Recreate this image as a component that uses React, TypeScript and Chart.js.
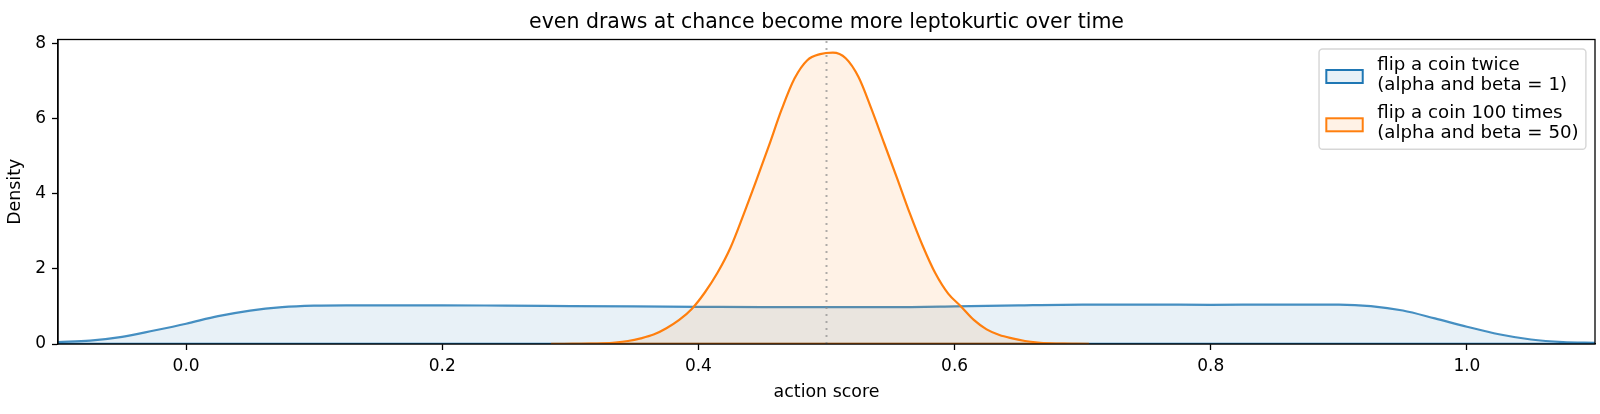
import React, { useEffect, useRef } from 'react';
import { Chart, registerables } from 'chart.js';

Chart.register(...registerables);

const FONT = "'DejaVu Sans', sans-serif";

// kde of two beta draws
const blueX = [
    -0.1, -0.075, -0.05, -0.025, 0.0, 0.025, 0.05, 0.075, 0.1, 0.125, 0.15, 0.2, 0.25, 0.3, 0.35, 0.4,
    0.45, 0.5, 0.55, 0.6, 0.65, 0.7, 0.75, 0.8, 0.85, 0.9, 0.925, 0.95, 0.975, 1.0, 1.025, 1.05, 1.075, 1.1,
];
const blueY = [
    0.05, 0.09, 0.19, 0.36, 0.54, 0.74, 0.89, 0.98, 1.02, 1.03, 1.03, 1.03, 1.02, 1.01, 1.0, 0.99,
    0.98, 0.98, 0.98, 1.0, 1.03, 1.05, 1.05, 1.04, 1.05, 1.05, 1.01, 0.89, 0.68, 0.46, 0.26, 0.12, 0.05, 0.03,
];

const orangeX = [
    0.285, 0.295, 0.305, 0.315, 0.325, 0.335, 0.345, 0.355, 0.365, 0.375, 0.385, 0.395, 0.405, 0.415,
    0.425, 0.435, 0.445, 0.455, 0.465, 0.475, 0.485, 0.495, 0.505, 0.515, 0.525, 0.535, 0.545, 0.555,
    0.565, 0.575, 0.585, 0.595, 0.605, 0.615, 0.625, 0.635, 0.645, 0.655, 0.665, 0.675, 0.685, 0.695, 0.705,
];
const orangeY = [
    0.0, 0.0, 0.005, 0.01, 0.02, 0.04, 0.08, 0.15, 0.25, 0.42, 0.64, 0.94, 1.37, 1.9,
    2.56, 3.42, 4.33, 5.27, 6.24, 7.06, 7.55, 7.71, 7.75, 7.6, 7.1, 6.26, 5.34, 4.42,
    3.48, 2.62, 1.88, 1.34, 1.0, 0.64, 0.39, 0.24, 0.15, 0.08, 0.04, 0.02, 0.01, 0.005, 0.0,
];

const xTicks = [0.0, 0.2, 0.4, 0.6, 0.8, 1.0];
const yTicks = [0, 2, 4, 6, 8];
const xRange = [-0.1, 1.1];
const yRange = [0, 8.1];
const chanceLevel = 0.5;

const chartTitle = 'even draws at chance become more leptokurtic over time';
const seriesLabels = [
    ['flip a coin twice', '(alpha and beta = 1)'],
    ['flip a coin 100 times', '(alpha and beta = 50)'],
];
const seriesColors = ['rgba(31, 119, 180, 0.82)', '#ff7f0e'];
const seriesEdges = ['#1f77b4', '#ff7f0e'];
const seriesFills = ['rgba(31, 119, 180, 0.1)', 'rgba(255, 127, 14, 0.1)'];

const toPoints = (xs: number[], ys: number[]) => xs.map((x, i) => ({ x, y: ys[i] }));
const baseline = (xs: number[]) => [{ x: xs[0], y: 0 }, { x: xs[xs.length - 1], y: 0 }];

// title centred over the axes, like matplotlib does
const titlePlugin = {
    id: 'axesTitle',
    afterDraw(chart: any) {
        const { ctx, chartArea } = chart;
        ctx.save();
        ctx.font = `20.5px ${FONT}`;
        ctx.fillStyle = '#000';
        ctx.textAlign = 'center';
        ctx.textBaseline = 'alphabetic';
        ctx.fillText(chartTitle, (chartArea.left + chartArea.right) / 2, chartArea.top - 11.5);
        ctx.restore();
    },
};

// top/right spines and a re-stroke of the axes over the fills
const framePlugin = {
    id: 'frame',
    afterDatasetsDraw(chart: any) {
        const { ctx, chartArea } = chart;
        ctx.save();
        ctx.strokeStyle = '#000';
        ctx.lineWidth = 1.3;
        ctx.strokeRect(chartArea.left, chartArea.top, chartArea.right - chartArea.left, chartArea.bottom - chartArea.top);
        ctx.restore();
    },
};

// matplotlib-ish legend with two-line labels
const legendPlugin = {
    id: 'mplLegend',
    afterDraw(chart: any) {
        const { ctx, chartArea } = chart;
        const fs = 18.2;
        ctx.save();
        ctx.font = `${fs}px ${FONT}`;
        const textW = Math.max(...seriesLabels.flat().map((t) => ctx.measureText(t).width));
        const padX = 0.4 * fs;
        const padY = 6;
        const handleW = 2 * fs;
        const handleH = 13;
        const gap = 0.8 * fs;
        const lineH = 20;
        const spacing = 8.3;
        const w = padX * 2 + handleW + gap + textW;
        const h = padY * 2 + lineH * 4 + spacing;
        const right = chartArea.right - 0.5 * fs;
        const top = chartArea.top + 9.5;
        const left = right - w;

        ctx.beginPath();
        ctx.roundRect(left, top, w, h, 3.5);
        ctx.fillStyle = 'rgba(255,255,255,0.8)';
        ctx.fill();
        ctx.strokeStyle = 'rgba(204,204,204,0.8)';
        ctx.lineWidth = 1.4;
        ctx.stroke();

        seriesLabels.forEach((lines, i) => {
            const entryTop = top + padY + i * (lineH * 2 + spacing);
            const mid = entryTop + lineH + 1.5;
            ctx.fillStyle = '#fff';
            ctx.fillRect(left + padX, mid - handleH / 2, handleW, handleH);
            ctx.fillStyle = seriesFills[i];
            ctx.fillRect(left + padX, mid - handleH / 2, handleW, handleH);
            ctx.strokeStyle = seriesEdges[i];
            ctx.lineWidth = 2;
            ctx.strokeRect(left + padX, mid - handleH / 2, handleW, handleH);

            ctx.fillStyle = '#000';
            ctx.textBaseline = 'middle';
            ctx.textAlign = 'left';
            lines.forEach((t, j) => {
                ctx.fillText(t, left + padX + handleW + gap, entryTop + lineH * (j + 0.5));
            });
        });
        ctx.restore();
    },
};

const DensityChart: React.FC = () => {
    const canvasRef = useRef<HTMLCanvasElement>(null);
    const chartRef = useRef<Chart | null>(null);

    useEffect(() => {
        if (!canvasRef.current) return;
        const ctx = canvasRef.current.getContext('2d');
        if (!ctx) return;
        if (chartRef.current) chartRef.current.destroy();

        const tickFont = { family: FONT, size: 17 };
        const labelFont = { family: FONT, size: 17.4 };

        chartRef.current = new Chart(ctx, {
            type: 'line',
            data: {
                datasets: [
                    {
                        data: baseline(blueX),
                        borderColor: seriesEdges[0],
                        borderWidth: 2.6,
                        pointRadius: 0,
                        fill: false,
                        order: 5,
                    },
                    {
                        data: toPoints(blueX, blueY),
                        borderColor: seriesColors[0],
                        backgroundColor: seriesFills[0],
                        borderWidth: 2.2,
                        pointRadius: 0,
                        fill: 'origin',
                        cubicInterpolationMode: 'monotone',
                        order: 4,
                    },
                    {
                        data: baseline(orangeX),
                        borderColor: seriesEdges[1],
                        borderWidth: 2.6,
                        pointRadius: 0,
                        fill: false,
                        order: 3,
                    },
                    {
                        data: toPoints(orangeX, orangeY),
                        borderColor: seriesColors[1],
                        backgroundColor: seriesFills[1],
                        borderWidth: 2.2,
                        pointRadius: 0,
                        fill: 'origin',
                        cubicInterpolationMode: 'monotone',
                        order: 2,
                    },
                    {
                        data: [{ x: chanceLevel, y: yRange[0] }, { x: chanceLevel, y: yRange[1] }],
                        borderColor: 'rgba(140, 140, 140, 0.7)',
                        borderWidth: 2,
                        borderDash: [2, 5],
                        pointRadius: 0,
                        fill: false,
                        order: 1,
                    },
                ],
            },
            options: {
                animation: false,
                responsive: true,
                maintainAspectRatio: false,
                layout: { padding: { left: 0, right: 5, top: 39.5, bottom: 0 } },
                scales: {
                    x: {
                        type: 'linear',
                        min: xRange[0],
                        max: xRange[1],
                        afterBuildTicks: (s: any) => {
                            s.ticks = xTicks.map((v) => ({ value: v }));
                        },
                        afterFit: (s: any) => {
                            s.height = 70;
                        },
                        grid: {
                            display: true,
                            drawOnChartArea: false,
                            drawTicks: true,
                            tickLength: 6,
                            tickColor: '#000',
                            tickWidth: 1.3,
                        },
                        border: { display: true, color: '#000', width: 1.3 },
                        ticks: {
                            autoSkip: false,
                            maxRotation: 0,
                            color: '#000',
                            font: tickFont,
                            padding: 6,
                            callback: (v: any) => Number(v).toFixed(1),
                        },
                        title: {
                            display: true,
                            text: 'action score',
                            color: '#000',
                            font: labelFont,
                            padding: { top: 0, bottom: 10.8 },
                        },
                    },
                    y: {
                        min: yRange[0],
                        max: yRange[1],
                        afterBuildTicks: (s: any) => {
                            s.ticks = yTicks.map((v) => ({ value: v }));
                        },
                        afterFit: (s: any) => {
                            s.width = 58;
                        },
                        grid: {
                            display: true,
                            drawOnChartArea: false,
                            drawTicks: true,
                            tickLength: 6,
                            tickColor: '#000',
                            tickWidth: 1.3,
                        },
                        border: { display: true, color: '#000', width: 1.3 },
                        ticks: {
                            color: '#000',
                            font: tickFont,
                            padding: 6,
                            callback: (v: any) => String(v),
                        },
                        title: {
                            display: true,
                            text: 'Density',
                            color: '#000',
                            font: labelFont,
                            padding: { top: 5.3, bottom: 0 },
                        },
                    },
                },
                plugins: {
                    legend: { display: false },
                    tooltip: { enabled: false },
                    title: { display: false },
                },
            },
            plugins: [framePlugin, titlePlugin, legendPlugin],
        });

        return () => {
            if (chartRef.current) {
                chartRef.current.destroy();
                chartRef.current = null;
            }
        };
    }, []);

    return (
        <div style={{ position: 'absolute', left: 0, top: 0, width: '1600px', height: '414px' }}>
            <canvas ref={canvasRef}></canvas>
        </div>
    );
};

export default function App() {
    return <DensityChart />;
}
